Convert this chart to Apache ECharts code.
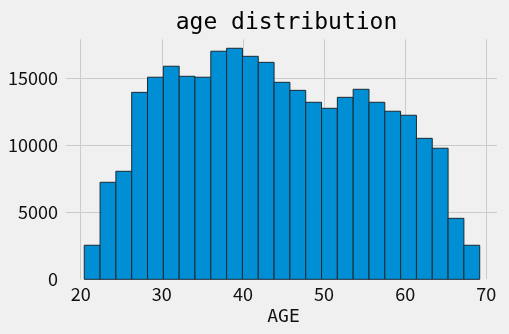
<!DOCTYPE html>
<html>
<head>
<meta charset="utf-8">
<script src="https://cdn.jsdelivr.net/npm/echarts@6/dist/echarts.min.js"></script>
<style>
html,body{margin:0;padding:0;background:#f0f0f0;}
#chart{width:509px;height:334px;}
</style>
</head>
<body>
<div id="chart"></div>
<script>
// Histogram data
const titleText = 'age distribution';
const xAxisName = 'AGE';
const binStart = 20.44;
const binWidth = 1.95;
const counts = [2540, 7240, 8060, 13950, 15080, 15900, 15150, 15080, 17020, 17240,
                16640, 16190, 14700, 14100, 13210, 12760, 13580, 14180, 13210, 12540,
                12240, 10520, 9780, 4550, 2540];
const xTicks = [20, 30, 40, 50, 60, 70];
const yTicks = [0, 5000, 10000, 15000];

const bins = counts.map((c, i) => [binStart + i * binWidth, binStart + (i + 1) * binWidth, c]);

const tickFont = "'Liberation Sans Narrow', 'Noto Sans CJK SC', sans-serif";
const chart = echarts.init(document.getElementById('chart'), null, {renderer: 'canvas'});
chart.setOption({
  backgroundColor: '#f0f0f0',
  animation: false,
  title: {
    text: titleText,
    left: 281.5,
    top: 7,
    textAlign: 'center',
    textStyle: {fontFamily: "'DejaVu Sans Mono', monospace", fontSize: 23, fontWeight: 'normal', color: '#000'}
  },
  grid: [
    {left: 66, right: 12, top: 39.3, bottom: 54.7},
    {left: 80.7, right: 22.7, top: 39.3, bottom: 54.7}
  ],
  xAxis: [
    {type: 'value', gridIndex: 0, min: 18.19, max: 71.32, show: false},
    {type: 'value', gridIndex: 1, min: xTicks[0], max: xTicks[xTicks.length - 1], interval: 10,
     axisLine: {show: false}, axisTick: {show: false},
     splitLine: {show: true, lineStyle: {color: '#cbcbcb', width: 1}},
     axisLabel: {fontFamily: tickFont, fontSize: 18, color: '#111', margin: 6},
     name: xAxisName, nameLocation: 'middle', nameGap: 27,
     nameTextStyle: {fontFamily: "'DejaVu Sans Mono', monospace", fontSize: 18, color: '#111'}}
  ],
  yAxis: [
    {type: 'value', gridIndex: 0, min: 0, max: 17910, interval: 5000,
     axisLine: {show: false}, axisTick: {show: false},
     splitLine: {show: true, showMinLine: false, showMaxLine: false, lineStyle: {color: '#cbcbcb', width: 1}},
     axisLabel: {fontFamily: tickFont, fontSize: 18, color: '#111', margin: 8, showMaxLabel: false,
                 formatter: v => yTicks.includes(v) ? String(v) : ''}},
    {type: 'value', gridIndex: 1, min: 0, max: 17910, show: false}
  ],
  series: [{
    type: 'custom',
    xAxisIndex: 0, yAxisIndex: 0,
    data: bins,
    encode: {x: [0, 1], y: 2},
    renderItem: function (params, api) {
      const p0 = api.coord([api.value(0), api.value(2)]);
      const p1 = api.coord([api.value(1), 0]);
      return {
        type: 'rect',
        shape: {x: p0[0], y: p0[1], width: p1[0] - p0[0], height: p1[1] - p0[1]},
        style: {fill: '#008fd5', stroke: '#1c2a33', lineWidth: 1}
      };
    }
  }]
});
</script>
</body>
</html>
